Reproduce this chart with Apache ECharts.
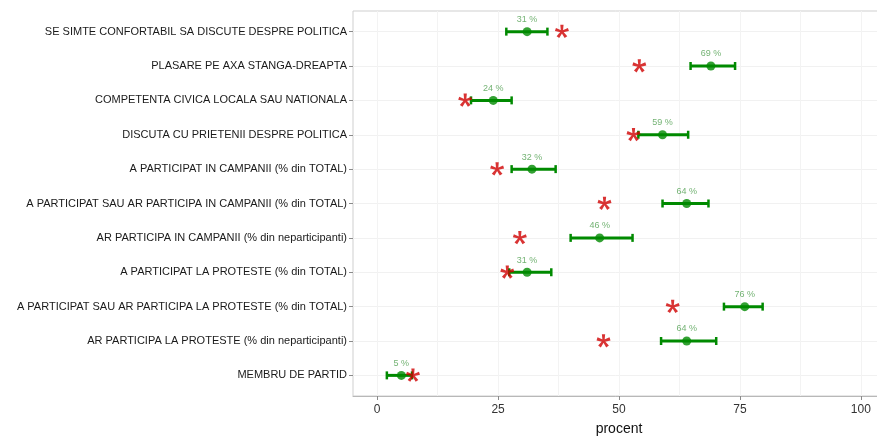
<!DOCTYPE html>
<html>
<head>
<meta charset="utf-8">
<style>
  html, body { margin: 0; padding: 0; background: #ffffff; }
  #chart { width: 877px; height: 436px; }
</style>
<script src="https://cdn.jsdelivr.net/npm/echarts@6/dist/echarts.min.js"></script>
</head>
<body>
<div id="chart"></div>
<script>
// Indicators, listed from top to bottom
const categories = [
  'SE SIMTE CONFORTABIL SA DISCUTE DESPRE POLITICA',
  'PLASARE PE AXA STANGA-DREAPTA',
  'COMPETENTA CIVICA LOCALA SAU NATIONALA',
  'DISCUTA CU PRIETENII DESPRE POLITICA',
  'A PARTICIPAT IN CAMPANII (% din TOTAL)',
  'A PARTICIPAT SAU AR PARTICIPA IN CAMPANII (% din TOTAL)',
  'AR PARTICIPA IN CAMPANII (% din neparticipanti)',
  'A PARTICIPAT LA PROTESTE (% din TOTAL)',
  'A PARTICIPAT SAU AR PARTICIPA LA PROTESTE (% din TOTAL)',
  'AR PARTICIPA LA PROTESTE (% din neparticipanti)',
  'MEMBRU DE PARTID'
];

// Estimated share (percent) with its interval
const estimate = [31, 69, 24, 59, 32, 64, 46, 31, 76, 64, 5];
const lower    = [26.7, 64.8, 19.4, 54.0, 27.8, 59.0, 40.0, 27.3, 71.7, 58.7, 2.0];
const upper    = [35.2, 74.0, 27.8, 64.3, 36.9, 68.5, 52.8, 36.0, 79.7, 70.1, 7.2];

// Reference value for comparison (red asterisks)
const reference = [38.2, 54.2, 18.2, 53.0, 24.8, 47.0, 29.5, 26.9, 61.1, 46.8, 7.4];

// Axis ticks
const xTicks = [0, 25, 50, 75, 100];
const xMinorGrid = [0, 12.5, 25, 37.5, 50, 62.5, 75, 87.5, 100];

const FONT = '"Liberation Sans", Arial, sans-serif';
const GREEN = '#008a00';
const RED = '#d00000';

// Five-armed asterisk glyph as a symbol path
function asteriskPath() {
  const L = 1, w = 0.48;
  let d = '';
  for (let k = 0; k < 5; k++) {
    const a = (-90 + k * 72) * Math.PI / 180;
    const dx = Math.cos(a), dy = Math.sin(a);
    const nx = -dy, ny = dx;
    const p = [
      [nx * w * 0.3, ny * w * 0.3],
      [nx * w / 2 + dx * L, ny * w / 2 + dy * L],
      [-nx * w / 2 + dx * L, -ny * w / 2 + dy * L],
      [-nx * w * 0.3, -ny * w * 0.3]
    ];
    d += 'M' + p.map(q => q[0].toFixed(3) + ' ' + q[1].toFixed(3)).join(' L') + ' Z ';
  }
  // keep the glyph centred in its bounding box
  d += 'M-1 -1 L-1 -1 M1 1 L1 1';
  return 'path://' + d;
}

const idx = categories.map((_, i) => i);
const barData = idx.map(i => [lower[i], upper[i], i]);
const pointData = idx.map(i => [estimate[i], i]);
const refData = idx.map(i => [reference[i], i]);

const chart = echarts.init(document.getElementById('chart'), null, { renderer: 'canvas' });

chart.setOption({
  animation: false,
  backgroundColor: '#ffffff',
  grid: {
    left: 353, right: -8, top: 11, bottom: 40,
    outerBoundsMode: 'none', containLabel: false,
    show: true, borderColor: '#cfcfcf', borderWidth: 1, backgroundColor: 'transparent'
  },
  xAxis: [
    {
      type: 'value', min: -5, max: 105, position: 'bottom',
      name: 'procent', nameLocation: 'middle', nameGap: 26,
      nameTextStyle: { fontFamily: FONT, fontSize: 14, color: '#111' },
      axisLine: { show: true, onZero: false, lineStyle: { color: '#b8b8b8', width: 1 } },
      axisTick: { show: true, customValues: xTicks, length: 4, lineStyle: { color: '#8a8a8a' } },
      axisLabel: { customValues: xTicks, margin: 8, fontFamily: FONT, fontSize: 12, color: '#333' },
      splitLine: { show: true, lineStyle: { color: '#ececec', width: 1 } }
    },
    {
      type: 'value', min: -5, max: 105, position: 'bottom',
      axisLine: { show: false, onZero: false },
      axisTick: { show: false, customValues: xMinorGrid },
      axisLabel: { show: false },
      splitLine: { show: true, lineStyle: { color: '#f3f3f3', width: 1 } }
    }
  ],
  yAxis: {
    type: 'value', min: -0.6, max: 10.6, inverse: true,
    axisLine: { show: false, onZero: false },
    axisTick: { show: true, customValues: idx, length: 4, lineStyle: { color: '#8a8a8a' } },
    axisLabel: {
      customValues: idx, margin: 6,
      fontFamily: FONT, fontSize: 11, color: '#1a1a1a',
      formatter: v => categories[Math.round(v)]
    },
    splitLine: { show: true, lineStyle: { color: '#f1f1f1', width: 1 } }
  },
  series: [
    {
      // interval bars with end caps
      type: 'custom',
      xAxisIndex: 0,
      data: barData,
      encode: { x: [0, 1], y: 2 },
      z: 2,
      renderItem: function (params, api) {
        const a = api.coord([api.value(0), api.value(2)]);
        const b = api.coord([api.value(1), api.value(2)]);
        const cap = 4;
        const style = { stroke: GREEN, lineWidth: 3 };
        return {
          type: 'group',
          children: [
            { type: 'line', shape: { x1: a[0], y1: a[1], x2: b[0], y2: b[1] }, style: style },
            { type: 'line', shape: { x1: a[0], y1: a[1] - cap, x2: a[0], y2: a[1] + cap }, style: { stroke: GREEN, lineWidth: 2.5 } },
            { type: 'line', shape: { x1: b[0], y1: b[1] - cap, x2: b[0], y2: b[1] + cap }, style: { stroke: GREEN, lineWidth: 2.5 } }
          ]
        };
      }
    },
    {
      type: 'scatter',
      xAxisIndex: 0,
      data: pointData,
      symbol: 'circle',
      symbolSize: 9,
      z: 3,
      itemStyle: { color: GREEN },
      label: {
        show: true, position: 'top', distance: 3,
        fontFamily: FONT, fontSize: 9, color: '#4f9f4f',
        formatter: p => p.value[0] + ' %'
      }
    },
    {
      type: 'scatter',
      xAxisIndex: 0,
      data: refData,
      symbol: asteriskPath(),
      symbolKeepAspect: true,
      symbolSize: 14,
      z: 4,
      itemStyle: { color: RED }
    }
  ]
});
</script>
</body>
</html>
